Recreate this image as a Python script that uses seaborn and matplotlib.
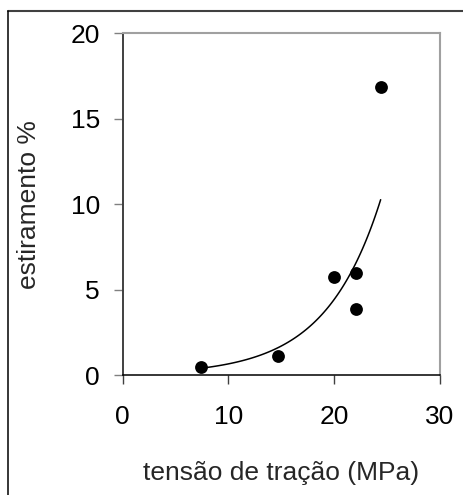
import numpy as np
import pandas as pd
import matplotlib.pyplot as plt
import seaborn as sns
from matplotlib.lines import Line2D

# dados
tensao = [7.4, 14.65, 20.0, 22.1, 22.1, 24.4]
estiramento = [0.49, 1.13, 5.75, 5.98, 3.88, 16.86]
x_ticks = [0, 10, 20, 30]
y_ticks = [0, 5, 10, 15, 20]

sns.set_style("ticks")
plt.rcParams['font.family'] = ['Liberation Sans', 'DejaVu Sans']

df = pd.DataFrame({'tensao': tensao, 'estiramento': estiramento})

# linha de tendência exponencial (ajuste em log, como no Excel)
b, ln_a = np.polyfit(df['tensao'], np.log(df['estiramento']), 1)
xs = np.linspace(min(tensao), max(tensao), 100)
fit = pd.DataFrame({'tensao': xs, 'estiramento': np.exp(ln_a) * np.exp(b * xs)})

fig = plt.figure(figsize=(4.63, 4.95), dpi=100)
ax = fig.add_axes([0.265, 0.2424, 0.685, 0.6903])

sns.lineplot(data=fit, x='tensao', y='estiramento', color='black', linewidth=1.1, ax=ax)
sns.scatterplot(data=df, x='tensao', y='estiramento', color='black', s=85,
                edgecolor='black', linewidth=0, ax=ax, zorder=3)

ax.set_xlim(0, 30)
ax.set_ylim(0, 20)
ax.set_xticks(x_ticks)
ax.set_yticks(y_ticks)
ax.set_xlabel('tensão de tração (MPa)', fontsize=19, labelpad=23)
ax.set_ylabel('estiramento %', fontsize=19, labelpad=21)

for side in ['top', 'right']:
    ax.spines[side].set_visible(True)
    ax.spines[side].set_color('#a0a0a0')
    ax.spines[side].set_linewidth(1.5)
ax.spines['left'].set_color('#404040')
ax.spines['left'].set_linewidth(1.4)
ax.spines['bottom'].set_color('black')
ax.spines['bottom'].set_linewidth(1.1)

ax.tick_params(axis='y', direction='out', length=6.5, width=1, color='#808080',
               pad=10, labelsize=19, labelcolor='black')
ax.tick_params(axis='x', direction='out', length=6.5, width=1, color='#404040',
               pad=15, labelsize=19, labelcolor='black')

# moldura externa (só topo e esquerda visíveis)
fig.add_artist(Line2D([8 / 463, 1.0], [1 - 10.5 / 495] * 2, transform=fig.transFigure,
                      color='#404040', linewidth=1.5))
fig.add_artist(Line2D([8 / 463] * 2, [0.0, 1 - 10.5 / 495], transform=fig.transFigure,
                      color='black', linewidth=1.1))

fig.savefig('out.png', dpi=100)
